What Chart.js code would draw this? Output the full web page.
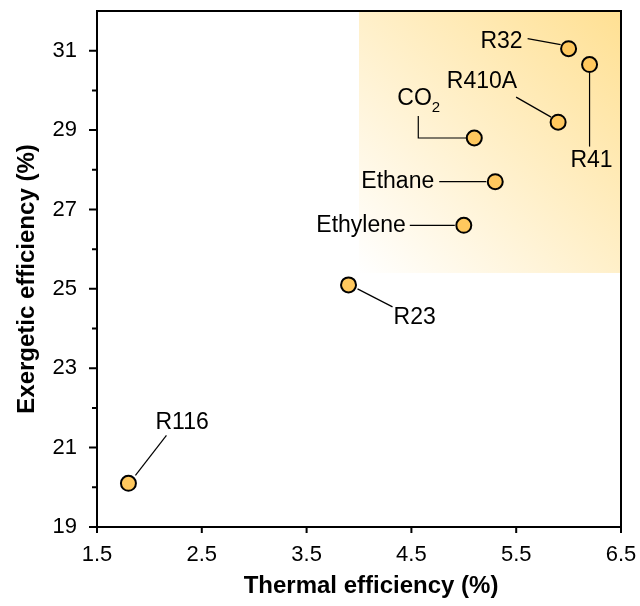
<!DOCTYPE html>
<html>
<head>
<meta charset="utf-8">
<title>Thermal vs exergetic efficiency</title>
<script src="https://cdn.jsdelivr.net/npm/chart.js"></script>
<style>
    html, body { margin: 0; padding: 0; background: #fff; }
    #wrap { width: 640px; height: 606px; }
</style>
</head>
<body>
<div id="wrap"><canvas id="chart"></canvas></div>
<script>
    // working fluids and their efficiencies (%)
    const fluids = ['R116', 'R23', 'Ethylene', 'Ethane', 'CO2', 'R410A', 'R32', 'R41'];
    const thermalEff = [1.8, 3.9, 5.0, 5.3, 5.1, 5.9, 6.0, 6.2];
    const exergeticEff = [20.1, 25.1, 26.6, 27.7, 28.8, 29.2, 31.05, 30.65];

    const xTicks = [1.5, 2.5, 3.5, 4.5, 5.5, 6.5];
    const yTicks = [19, 21, 23, 25, 27, 29, 31];
    const yMinor = [20, 22, 24, 26, 28, 30];

    const xTitle = 'Thermal efficiency (%)';
    const yTitle = 'Exergetic efficiency (%)';

    // shaded "best performers" zone
    const zoneX = [4.0, 6.5];
    const zoneY = [25.4, 32];

    // label placement, pixel offsets from each marker centre
    const callouts = {
        'R116':     { text: 'R116', tx: 27, ty: -61, align: 'left', line: [[7, -8], [38, -48]] },
        'R23':      { text: 'R23', tx: 45, ty: 33, align: 'left', line: [[9, 4], [44, 22]] },
        'Ethylene': { text: 'Ethylene', tx: -58, ty: 0, align: 'right', line: [[-9, 0], [-54, 0]] },
        'Ethane':   { text: 'Ethane', tx: -61, ty: 0, align: 'right', line: [[-9, 0], [-56, 0]] },
        'CO2':      { text: 'CO', sub: '2', tx: -77, ty: -39, align: 'left', line: [[-8, 0], [-56, 0], [-56, -22]] },
        'R410A':    { text: 'R410A', tx: -41, ty: -40, align: 'right', line: [[-7, -5], [-42, -25]] },
        'R32':      { text: 'R32', tx: -46, ty: -7, align: 'right', line: [[-8, -4], [-41, -10]] },
        'R41':      { text: 'R41', tx: 2, ty: 96, align: 'center', line: [[0, 8], [0, 82]] }
    };

    Chart.defaults.font.family = "'Liberation Sans', Arial, sans-serif";
    Chart.defaults.color = '#000';

    const FONT = "'Liberation Sans', Arial, sans-serif";

    const zonePlugin = {
        id: 'zone',
        beforeDatasetsDraw(chart) {
            const {ctx, scales: {x, y}} = chart;
            const x1 = x.getPixelForValue(zoneX[0]), x2 = x.getPixelForValue(zoneX[1]);
            const y1 = y.getPixelForValue(zoneY[1]), y2 = y.getPixelForValue(zoneY[0]);
            const g = ctx.createLinearGradient(x1, y2, x2, y1);
            g.addColorStop(0, '#ffffff');
            g.addColorStop(1, '#ffe093');
            ctx.save();
            ctx.fillStyle = g;
            ctx.fillRect(x1, y1, x2 - x1, y2 - y1);

            // leader lines sit under the markers
            ctx.strokeStyle = '#000';
            ctx.lineWidth = 1.2;
            const meta = chart.getDatasetMeta(0);
            fluids.forEach((name, i) => {
                const c = callouts[name];
                const p = meta.data[i];
                ctx.beginPath();
                c.line.forEach(([dx, dy], k) => {
                    if (k === 0) ctx.moveTo(p.x + dx, p.y + dy);
                    else ctx.lineTo(p.x + dx, p.y + dy);
                });
                ctx.stroke();
            });
            ctx.restore();
        },
        afterDraw(chart) {
            const {ctx, chartArea: a, scales: {x, y}} = chart;
            ctx.save();
            ctx.strokeStyle = '#000';
            ctx.lineWidth = 2;
            ctx.strokeRect(a.left, a.top, a.right - a.left, a.bottom - a.top);

            // tick marks, outward
            ctx.beginPath();
            xTicks.forEach(v => {
                const px = x.getPixelForValue(v);
                ctx.moveTo(px, a.bottom);
                ctx.lineTo(px, a.bottom + 6);
            });
            yTicks.forEach(v => {
                const py = y.getPixelForValue(v);
                ctx.moveTo(a.left, py);
                ctx.lineTo(a.left - 8, py);
            });
            yMinor.forEach(v => {
                const py = y.getPixelForValue(v);
                ctx.moveTo(a.left, py);
                ctx.lineTo(a.left - 5, py);
            });
            ctx.stroke();

            // axis titles, set a little past the plot centre
            ctx.fillStyle = '#000';
            ctx.textAlign = 'center';
            ctx.textBaseline = 'middle';
            ctx.font = 'bold 24px ' + FONT;
            ctx.fillText(xTitle, (a.left + a.right) / 2 + 12, 586);
            ctx.save();
            ctx.translate(27, (a.top + a.bottom) / 2 + 10);
            ctx.rotate(-Math.PI / 2);
            ctx.fillText(yTitle, 0, 0);
            ctx.restore();

            // point labels
            const meta = chart.getDatasetMeta(0);
            fluids.forEach((name, i) => {
                const c = callouts[name];
                const p = meta.data[i];
                ctx.font = '23px ' + FONT;
                ctx.textAlign = c.align;
                ctx.fillText(c.text, p.x + c.tx, p.y + c.ty);
                if (c.sub) {
                    const w = ctx.measureText(c.text).width;
                    ctx.font = '15px ' + FONT;
                    ctx.textAlign = 'left';
                    ctx.fillText(c.sub, p.x + c.tx + w, p.y + c.ty + 9);
                }
            });
            ctx.restore();
        }
    };

    var ctx = document.getElementById('chart').getContext('2d');
    var chart = new Chart(ctx, {
        type: 'scatter',
        data: {
            labels: fluids,
            datasets: [{
                data: thermalEff.map((v, i) => ({x: v, y: exergeticEff[i]})),
                backgroundColor: '#ffc85e',
                borderColor: '#000',
                borderWidth: 2,
                pointRadius: 7.5,
                pointHoverRadius: 7.5
            }]
        },
        options: {
            responsive: true,
            maintainAspectRatio: false,
            animation: false,
            events: [],
            layout: { padding: { top: 11, right: 19, left: 0, bottom: 0 } },
            plugins: {
                legend: { display: false },
                tooltip: { enabled: false }
            },
            scales: {
                x: {
                    type: 'linear',
                    min: 1.5,
                    max: 6.5,
                    afterBuildTicks: s => { s.ticks = xTicks.map(v => ({value: v})); },
                    afterFit: s => { s.height = 79; s.paddingLeft = 0; s.paddingRight = 0; },
                    grid: { display: false, drawTicks: true, tickLength: 6 },
                    border: { display: false },
                    ticks: {
                        font: { size: 22 },
                        padding: 9,
                        maxRotation: 0,
                        callback: v => v.toFixed(1)
                    }
                },
                y: {
                    type: 'linear',
                    min: 19,
                    max: 32,
                    afterBuildTicks: s => { s.ticks = yTicks.map(v => ({value: v})); },
                    afterFit: s => { s.width = 97; s.paddingTop = 0; s.paddingBottom = 0; },
                    grid: { display: false, drawTicks: true, tickLength: 8 },
                    border: { display: false },
                    ticks: {
                        font: { size: 22 },
                        padding: 12
                    }
                }
            }
        },
        plugins: [zonePlugin]
    });
</script>
</body>
</html>
